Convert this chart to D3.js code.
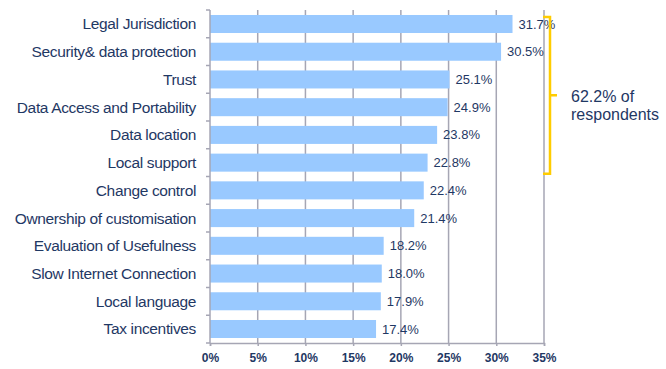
<!DOCTYPE html>
<html>
<head>
<meta charset="utf-8">
<script src="https://cdnjs.cloudflare.com/ajax/libs/d3/7.8.5/d3.min.js"></script>
<style>
body { margin: 0; background: #fff; }
text { font-family: "Liberation Sans", Arial, sans-serif; }
</style>
</head>
<body>
<script>
var w = 666;
var h = 369;

var categories = ["Legal Jurisdiction", "Security& data protection", "Trust", "Data Access and Portability",
    "Data location", "Local support", "Change control", "Ownership of customisation",
    "Evaluation of Usefulness", "Slow Internet Connection", "Local language", "Tax incentives"];
var values = [31.7, 30.5, 25.1, 24.9, 23.8, 22.8, 22.4, 21.4, 18.2, 18.0, 17.9, 17.4];
var xTicks = [0, 5, 10, 15, 20, 25, 30, 35];
var bracketNote = ["62.2% of", "respondents"];

var navy = "#1f3864";
var gridColor = "#a6a6b4";
var plotL = 210, plotR = 544, plotT = 10, plotB = 343;

var svg = d3.select("body")
    .append("svg")
    .attr("width", w)
    .attr("height", h);

var x = d3.scaleLinear().domain([0, 35]).range([plotL, plotR]);
var y = d3.scaleBand().domain(categories).range([plotT, plotB]).paddingInner(0.35).paddingOuter(0.18);

// gridlines
svg.selectAll("line.grid")
    .data(xTicks.slice(1))
    .enter()
    .append("line")
    .attr("x1", function (d) { return x(d); })
    .attr("x2", function (d) { return x(d); })
    .attr("y1", plotT)
    .attr("y2", plotB)
    .attr("stroke", gridColor)
    .attr("stroke-width", 1.5);

// bars
svg.selectAll("rect.bar")
    .data(values)
    .enter()
    .append("rect")
    .attr("x", x(0))
    .attr("y", function (d, i) { return y(categories[i]); })
    .attr("width", function (d) { return x(d) - x(0); })
    .attr("height", y.bandwidth())
    .attr("fill", "#99c9ff");

// value labels
svg.selectAll("text.val")
    .data(values)
    .enter()
    .append("text")
    .attr("x", function (d) { return x(d) + 6; })
    .attr("y", function (d, i) { return y(categories[i]) + y.bandwidth() / 2; })
    .attr("dy", "0.35em")
    .attr("font-size", 13)
    .attr("fill", navy)
    .text(function (d) { return d.toFixed(1) + "%"; });

// left axis line with row ticks
var step = (plotB - plotT) / categories.length;
svg.append("line")
    .attr("x1", plotL).attr("x2", plotL)
    .attr("y1", plotT).attr("y2", plotB)
    .attr("stroke", gridColor).attr("stroke-width", 1.5);
svg.selectAll("line.rowtick")
    .data(d3.range(categories.length + 1))
    .enter()
    .append("line")
    .attr("x1", plotL - 4).attr("x2", plotL)
    .attr("y1", function (d) { return plotT + d * step; })
    .attr("y2", function (d) { return plotT + d * step; })
    .attr("stroke", gridColor).attr("stroke-width", 1.5);

// category labels
svg.selectAll("text.cat")
    .data(categories)
    .enter()
    .append("text")
    .attr("x", 196)
    .attr("y", function (d) { return y(d) + y.bandwidth() / 2; })
    .attr("dy", "0.35em")
    .attr("text-anchor", "end")
    .attr("font-size", 15.5)
    .attr("letter-spacing", -0.35)
    .attr("fill", navy)
    .text(function (d) { return d; });

// bottom axis
var xAxis = svg.append("g")
    .attr("transform", "translate(0," + plotB + ")")
    .call(d3.axisBottom(x).tickValues(xTicks).tickSize(3).tickFormat(function (d) { return d + "%"; }));
xAxis.select(".domain").attr("stroke", gridColor).attr("stroke-width", 1.5);
xAxis.selectAll(".tick line").attr("stroke", gridColor).attr("stroke-width", 1.5);
xAxis.selectAll(".tick text")
    .attr("font-size", 12)
    .attr("font-weight", "bold")
    .attr("font-family", "Liberation Sans, Arial, sans-serif")
    .attr("fill", navy)
    .attr("dy", "1.1em");

// bracket
var bTop = y(categories[0]) + 2, bBot = y(categories[5]) + y.bandwidth() + 2;
var bx = 550, bMid = (bTop + bBot) / 2;
svg.append("path")
    .attr("d", "M" + (bx - 7) + "," + bTop + " H" + bx + " V" + bBot + " H" + (bx - 7) +
        " M" + bx + "," + bMid + " H" + (bx + 7))
    .attr("fill", "none")
    .attr("stroke", "#ffcc00")
    .attr("stroke-width", 2.5);

svg.selectAll("text.note")
    .data(bracketNote)
    .enter()
    .append("text")
    .attr("x", 571)
    .attr("y", function (d, i) { return bMid + 7 + i * 18; })
    .attr("font-size", 16)
    .attr("fill", navy)
    .text(function (d) { return d; });
</script>
</body>
</html>
